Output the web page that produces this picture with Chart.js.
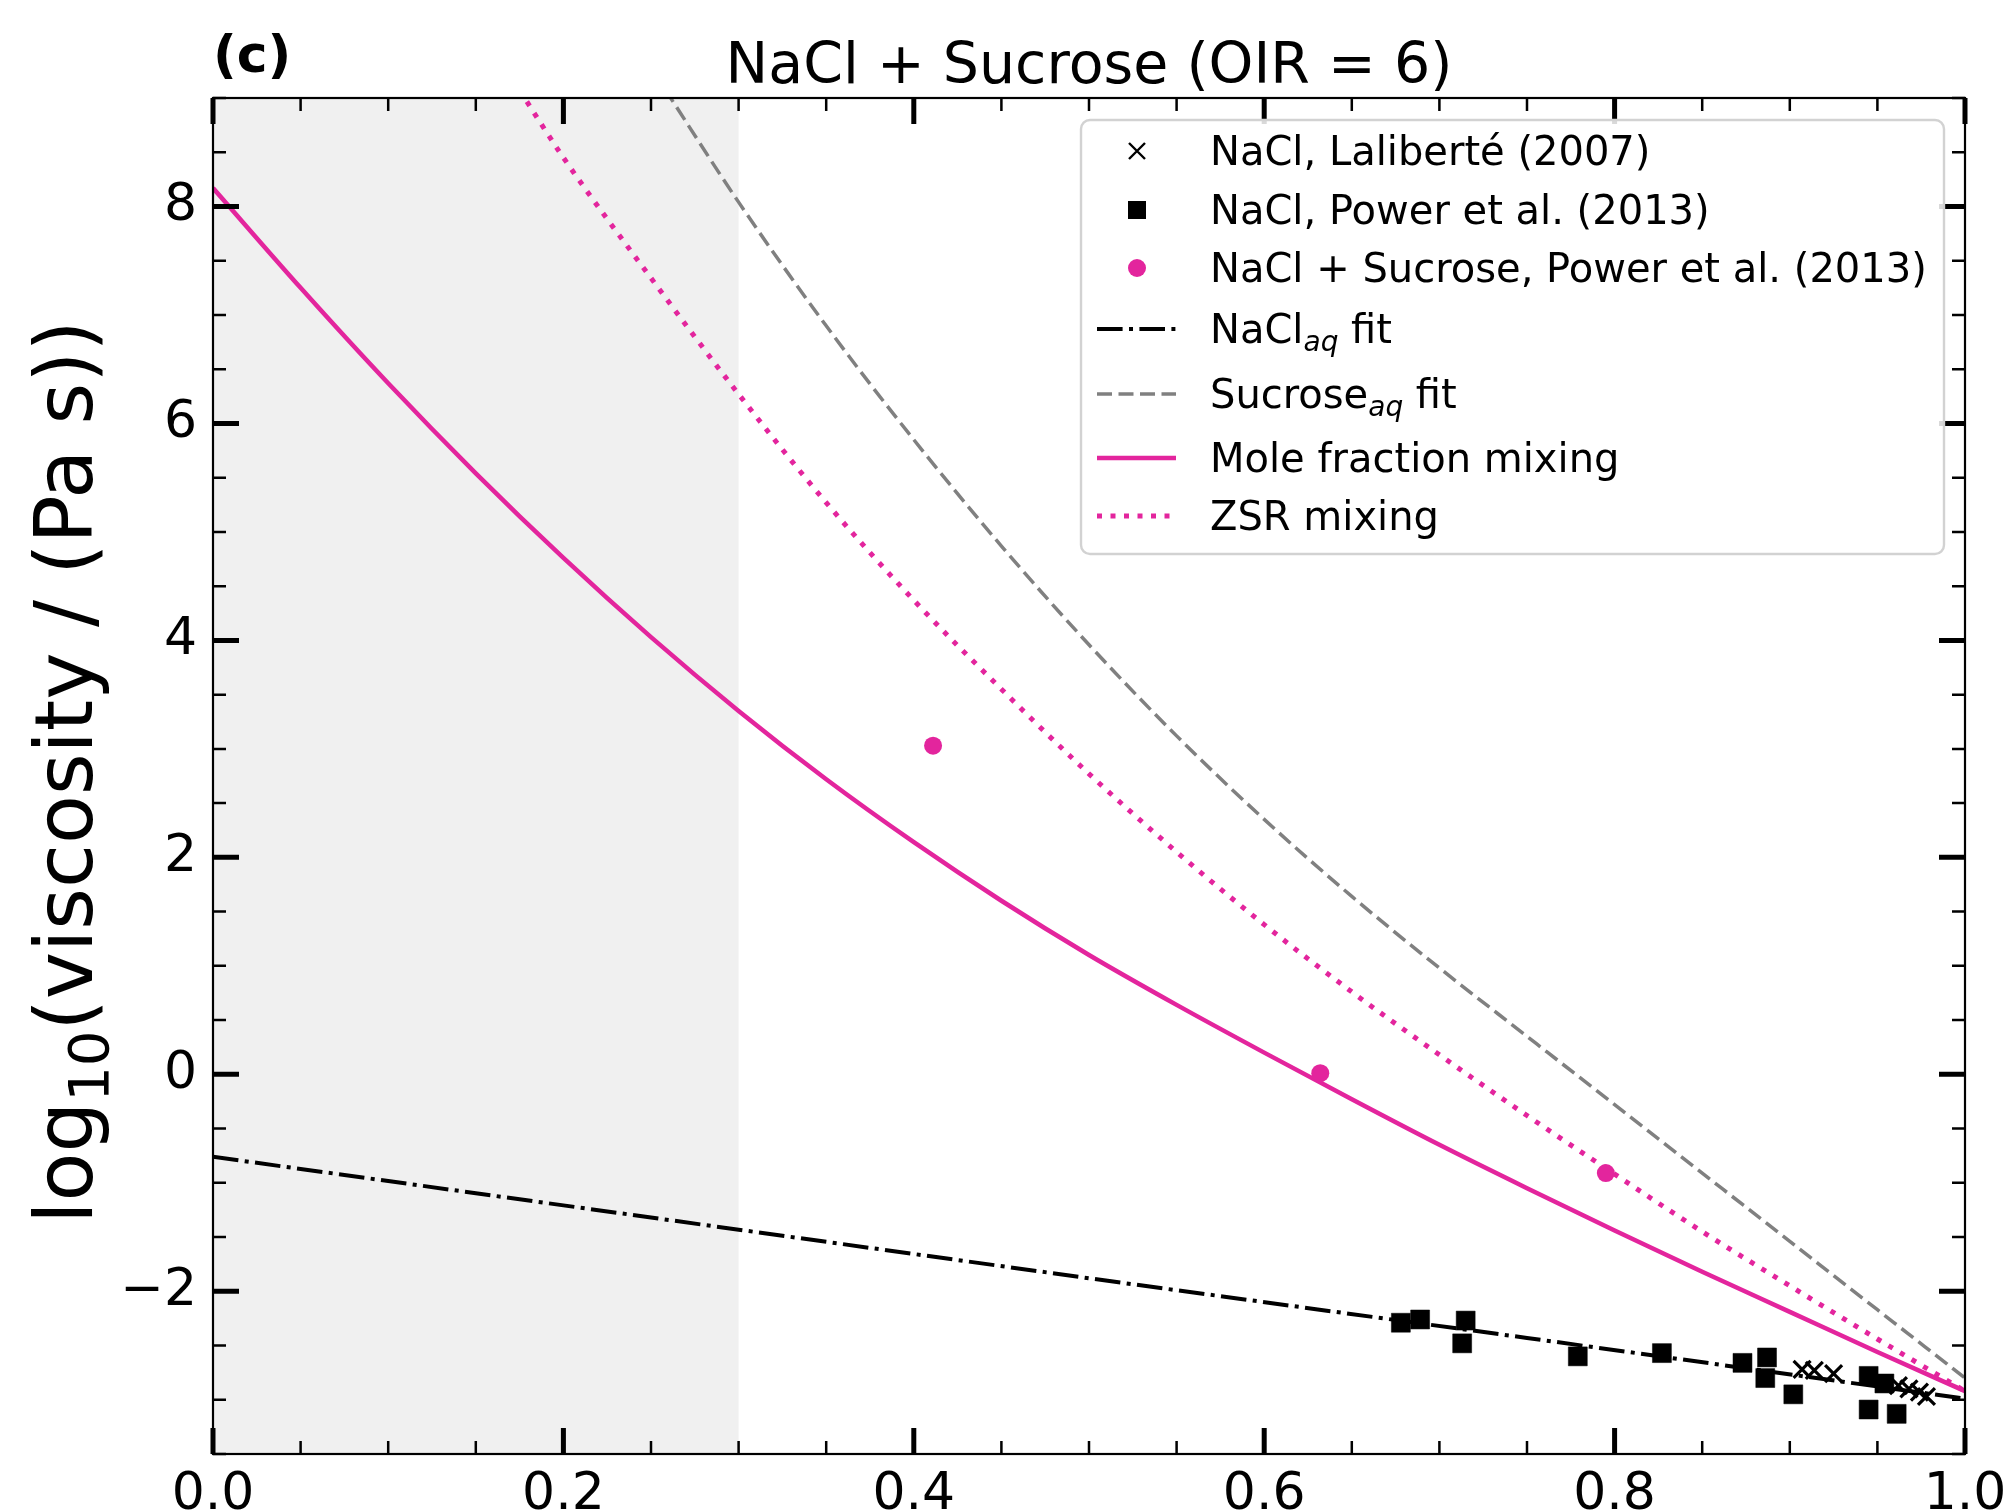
<!DOCTYPE html>
<html>
<head>
<meta charset="utf-8">
<script src="https://cdn.jsdelivr.net/npm/chart.js@4.4.0/dist/chart.umd.min.js"></script>
<style>
  html, body { margin: 0; padding: 0; background: #fff; }
  #wrap { width: 2003px; height: 1510px; }
</style>
</head>
<body>
<div id="wrap"><canvas id="chart" width="2003" height="1510"></canvas></div>
<script>
// tick labels and shaded band
const xTickValues = [0.0, 0.2, 0.4, 0.6, 0.8, 1.0];
const yTickValues = [-2, 0, 2, 4, 6, 8];
const shadeRange = [0.0, 0.3];

// NaCl, Laliberté (2007)
const laliberteX = [0.907, 0.914, 0.925, 0.962, 0.968, 0.974, 0.978];
const laliberteY = [-2.72, -2.73, -2.76, -2.87, -2.90, -2.93, -2.97];

// NaCl, Power et al. (2013)
const powerNaclX = [0.678, 0.689, 0.713, 0.715, 0.779, 0.827, 0.873, 0.886, 0.887, 0.902, 0.945, 0.945, 0.954, 0.961];
const powerNaclY = [-2.29, -2.26, -2.48, -2.27, -2.60, -2.57, -2.66, -2.80, -2.61, -2.95, -2.78, -3.09, -2.85, -3.13];

// NaCl + Sucrose, Power et al. (2013)
const powerMixX = [0.411, 0.632, 0.795];
const powerMixY = [3.03, 0.01, -0.91];

// NaCl(aq) fit
const naclFitX = [0.0, 0.25, 0.5, 0.75, 1.0];
const naclFitY = [-0.76, -1.32, -1.88, -2.43, -2.99];

// Sucrose(aq) fit
const sucroseFitX = [0.258, 0.3, 0.35, 0.4, 0.45, 0.5, 0.55, 0.6, 0.65, 0.7, 0.75, 0.8, 0.85, 0.9, 0.95, 1.0];
const sucroseFitY = [9.08, 8.04, 6.90, 5.85, 4.87, 3.96, 3.12, 2.35, 1.64, 0.98, 0.35, -0.28, -0.91, -1.54, -2.17, -2.80];

// Mole fraction mixing
const moleX = [0.0, 0.05, 0.1, 0.15, 0.2, 0.25, 0.3, 0.35, 0.4, 0.45, 0.5, 0.55, 0.6, 0.65, 0.7, 0.75, 0.8, 0.85, 0.9, 0.95, 1.0];
const moleY = [8.17, 7.25, 6.37, 5.54, 4.76, 4.03, 3.35, 2.72, 2.14, 1.60, 1.10, 0.64, 0.20, -0.23, -0.65, -1.05, -1.44, -1.82, -2.19, -2.56, -2.92];

// ZSR mixing
const zsrX = [0.175, 0.2, 0.25, 0.3, 0.35, 0.4, 0.45, 0.5, 0.55, 0.6, 0.65, 0.7, 0.75, 0.8, 0.85, 0.9, 0.95, 1.0];
const zsrY = [9.07, 8.45, 7.34, 6.27, 5.27, 4.37, 3.55, 2.77, 2.05, 1.38, 0.76, 0.18, -0.38, -0.92, -1.45, -1.95, -2.44, -2.92];

const FONT = "'DejaVu Sans', sans-serif";
const MAGENTA = '#e3259d';

const toPoints = (xs, ys) => xs.map((v, i) => ({ x: v, y: ys[i] }));

// "Foo_{aq} bar" -> [{t:'Foo'},{t:'aq',sub:true},{t:' bar'}]
function parseRich(str) {
  const parts = [];
  const re = /_\{([^}]*)\}/g;
  let last = 0, m;
  while ((m = re.exec(str))) {
    if (m.index > last) parts.push({ t: str.slice(last, m.index) });
    parts.push({ t: m[1], sub: true });
    last = re.lastIndex;
  }
  if (last < str.length) parts.push({ t: str.slice(last) });
  return parts;
}

function drawRich(ctx, parts, x, y, size, opts = {}) {
  const subSize = size * 0.7;
  const subFont = opts.italicSub ? `italic ${subSize}px ${FONT}` : `${subSize}px ${FONT}`;
  const mainFont = `${size}px ${FONT}`;
  let w = 0;
  parts.forEach(p => { ctx.font = p.sub ? subFont : mainFont; w += ctx.measureText(p.t).width; });
  let cx = opts.align === 'center' ? x - w / 2 : x;
  ctx.textAlign = 'left';
  ctx.textBaseline = 'alphabetic';
  parts.forEach(p => {
    ctx.font = p.sub ? subFont : mainFont;
    ctx.fillText(p.t, cx, p.sub ? y + size * 0.2 : y);
    cx += ctx.measureText(p.t).width;
  });
}

const decorations = {
  id: 'decorations',
  beforeDatasetsDraw(chart) {
    const { ctx, chartArea: a, scales: { x } } = chart;
    ctx.save();
    ctx.fillStyle = '#f0f0f0';
    const x0 = x.getPixelForValue(shadeRange[0]);
    const x1 = x.getPixelForValue(shadeRange[1]);
    ctx.fillRect(x0, a.top, x1 - x0, a.bottom - a.top);
    ctx.restore();
  },
  afterDatasetsDraw(chart) {
    const { ctx, chartArea: a, scales: { x, y } } = chart;
    ctx.save();
    ctx.strokeStyle = '#000';
    ctx.lineCap = 'butt';
    // inward ticks on all four sides
    for (let i = 0; i <= 20; i++) {
      const v = i * 0.05;
      const major = i % 4 === 0;
      const len = major ? 26 : 13;
      ctx.lineWidth = major ? 5 : 2.5;
      const px = x.getPixelForValue(v);
      ctx.beginPath();
      ctx.moveTo(px, a.bottom); ctx.lineTo(px, a.bottom - len);
      ctx.moveTo(px, a.top); ctx.lineTo(px, a.top + len);
      ctx.stroke();
    }
    for (let i = 0; i <= 25; i++) {
      const v = -3.5 + i * 0.5;
      const major = Math.abs(v % 2) < 1e-9;
      const len = major ? 26 : 13;
      ctx.lineWidth = major ? 5 : 2.5;
      const py = y.getPixelForValue(v);
      ctx.beginPath();
      ctx.moveTo(a.left, py); ctx.lineTo(a.left + len, py);
      ctx.moveTo(a.right, py); ctx.lineTo(a.right - len, py);
      ctx.stroke();
    }
    ctx.lineWidth = 2.2;
    ctx.strokeRect(a.left, a.top, a.right - a.left, a.bottom - a.top);
    ctx.restore();
  },
  afterDraw(chart) {
    const { ctx, chartArea: a } = chart;
    ctx.save();
    ctx.fillStyle = '#000';

    // panel letter and title
    ctx.font = `bold 52px ${FONT}`;
    ctx.textAlign = 'left';
    ctx.textBaseline = 'alphabetic';
    ctx.fillText('(c)', 213, 72);
    ctx.font = `57px ${FONT}`;
    ctx.textAlign = 'center';
    ctx.fillText('NaCl + Sucrose (OIR = 6)', (a.left + a.right) / 2, 83);

    // y axis label
    ctx.save();
    ctx.translate(92, (a.top + a.bottom) / 2 - 4);
    ctx.rotate(-Math.PI / 2);
    drawRich(ctx, [{ t: 'log' }, { t: '10', sub: true }, { t: '(viscosity / (Pa s))' }], 0, 0, 80, { align: 'center' });
    ctx.restore();

    // legend box
    const L = { left: 1081, top: 120, right: 1944, bottom: 554, r: 9 };
    ctx.beginPath();
    ctx.roundRect(L.left, L.top, L.right - L.left, L.bottom - L.top, L.r);
    ctx.fillStyle = 'rgba(255,255,255,0.85)';
    ctx.fill();
    ctx.strokeStyle = '#d2d2d2';
    ctx.lineWidth = 2.4;
    ctx.stroke();

    const rowY = [151, 210, 268, 329, 394, 458, 516];
    chart.data.datasets.forEach((ds, i) => {
      const yy = rowY[i];
      if (ds.showLine) {
        ctx.save();
        ctx.strokeStyle = ds.borderColor;
        ctx.lineWidth = ds.borderWidth;
        ctx.setLineDash(ds.borderDash || []);
        ctx.beginPath();
        ctx.moveTo(1097, yy); ctx.lineTo(1176, yy);
        ctx.stroke();
        ctx.restore();
      } else {
        const mx = 1137;
        ctx.save();
        if (ds.pointStyle === 'crossRot') {
          ctx.strokeStyle = ds.borderColor;
          ctx.lineWidth = 2.4;
          const s = 8;
          ctx.beginPath();
          ctx.moveTo(mx - s, yy - s); ctx.lineTo(mx + s, yy + s);
          ctx.moveTo(mx - s, yy + s); ctx.lineTo(mx + s, yy - s);
          ctx.stroke();
        } else if (ds.pointStyle === 'rect') {
          ctx.fillStyle = ds.backgroundColor;
          ctx.fillRect(mx - 9, yy - 9, 18, 18);
        } else {
          ctx.fillStyle = ds.backgroundColor;
          ctx.beginPath();
          ctx.arc(mx, yy, 9, 0, Math.PI * 2);
          ctx.fill();
        }
        ctx.restore();
      }
      ctx.fillStyle = '#000';
      drawRich(ctx, parseRich(ds.label), 1210, yy + 14, 40, { italicSub: true });
    });
    ctx.restore();
  }
};

Chart.defaults.font.family = FONT;
Chart.defaults.color = '#000';

new Chart(document.getElementById('chart'), {
  type: 'scatter',
  data: {
    datasets: [
      {
        label: 'NaCl, Laliberté (2007)',
        data: toPoints(laliberteX, laliberteY),
        pointStyle: 'crossRot', pointRadius: 12,
        borderColor: '#000', backgroundColor: '#000', pointBorderWidth: 3.2,
        order: 1
      },
      {
        label: 'NaCl, Power et al. (2013)',
        data: toPoints(powerNaclX, powerNaclY),
        pointStyle: 'rect', pointRadius: 13.4,
        borderColor: '#000', backgroundColor: '#000', pointBorderWidth: 0.5,
        order: 1
      },
      {
        label: 'NaCl + Sucrose, Power et al. (2013)',
        data: toPoints(powerMixX, powerMixY),
        pointStyle: 'circle', pointRadius: 9,
        borderColor: MAGENTA, backgroundColor: MAGENTA, pointBorderWidth: 0,
        order: 1
      },
      {
        label: 'NaCl_{aq} fit',
        data: toPoints(naclFitX, naclFitY),
        showLine: true, pointRadius: 0,
        borderColor: '#000', borderWidth: 4, borderDash: [25.6, 6.4, 4, 6.4],
        order: 2
      },
      {
        label: 'Sucrose_{aq} fit',
        data: toPoints(sucroseFitX, sucroseFitY),
        showLine: true, pointRadius: 0, cubicInterpolationMode: 'monotone',
        borderColor: '#808080', borderWidth: 3.5, borderDash: [15, 6.5],
        order: 2
      },
      {
        label: 'Mole fraction mixing',
        data: toPoints(moleX, moleY),
        showLine: true, pointRadius: 0, cubicInterpolationMode: 'monotone',
        borderColor: MAGENTA, borderWidth: 4.5,
        order: 2
      },
      {
        label: 'ZSR mixing',
        data: toPoints(zsrX, zsrY),
        showLine: true, pointRadius: 0, cubicInterpolationMode: 'monotone',
        borderColor: MAGENTA, borderWidth: 5, borderDash: [5, 8.5],
        order: 2
      }
    ]
  },
  options: {
    responsive: false,
    animation: false,
    events: [],
    layout: { padding: { top: 98, right: 38, bottom: 0, left: 0 } },
    plugins: {
      legend: { display: false },
      title: { display: false },
      tooltip: { enabled: false }
    },
    scales: {
      x: {
        type: 'linear',
        min: 0, max: 1,
        grid: { display: false },
        border: { display: false },
        ticks: {
          font: { size: 52 }, padding: 2, maxRotation: 0, autoSkip: false,
          callback: v => v.toFixed(1)
        },
        afterBuildTicks: s => { s.ticks = xTickValues.map(v => ({ value: v })); },
        afterFit: s => { s.height = 56; s.paddingLeft = 0; s.paddingRight = 0; }
      },
      y: {
        type: 'linear',
        min: -3.5, max: 9,
        grid: { display: false },
        border: { display: false },
        ticks: {
          font: { size: 52 }, padding: 8, autoSkip: false,
          callback: v => (v < 0 ? '\u2212' + Math.abs(v) : String(v))
        },
        afterBuildTicks: s => { s.ticks = yTickValues.map(v => ({ value: v })); },
        afterFit: s => { s.width = 213; s.paddingTop = 0; s.paddingBottom = 0; }
      }
    }
  },
  plugins: [decorations]
});
</script>
</body>
</html>
